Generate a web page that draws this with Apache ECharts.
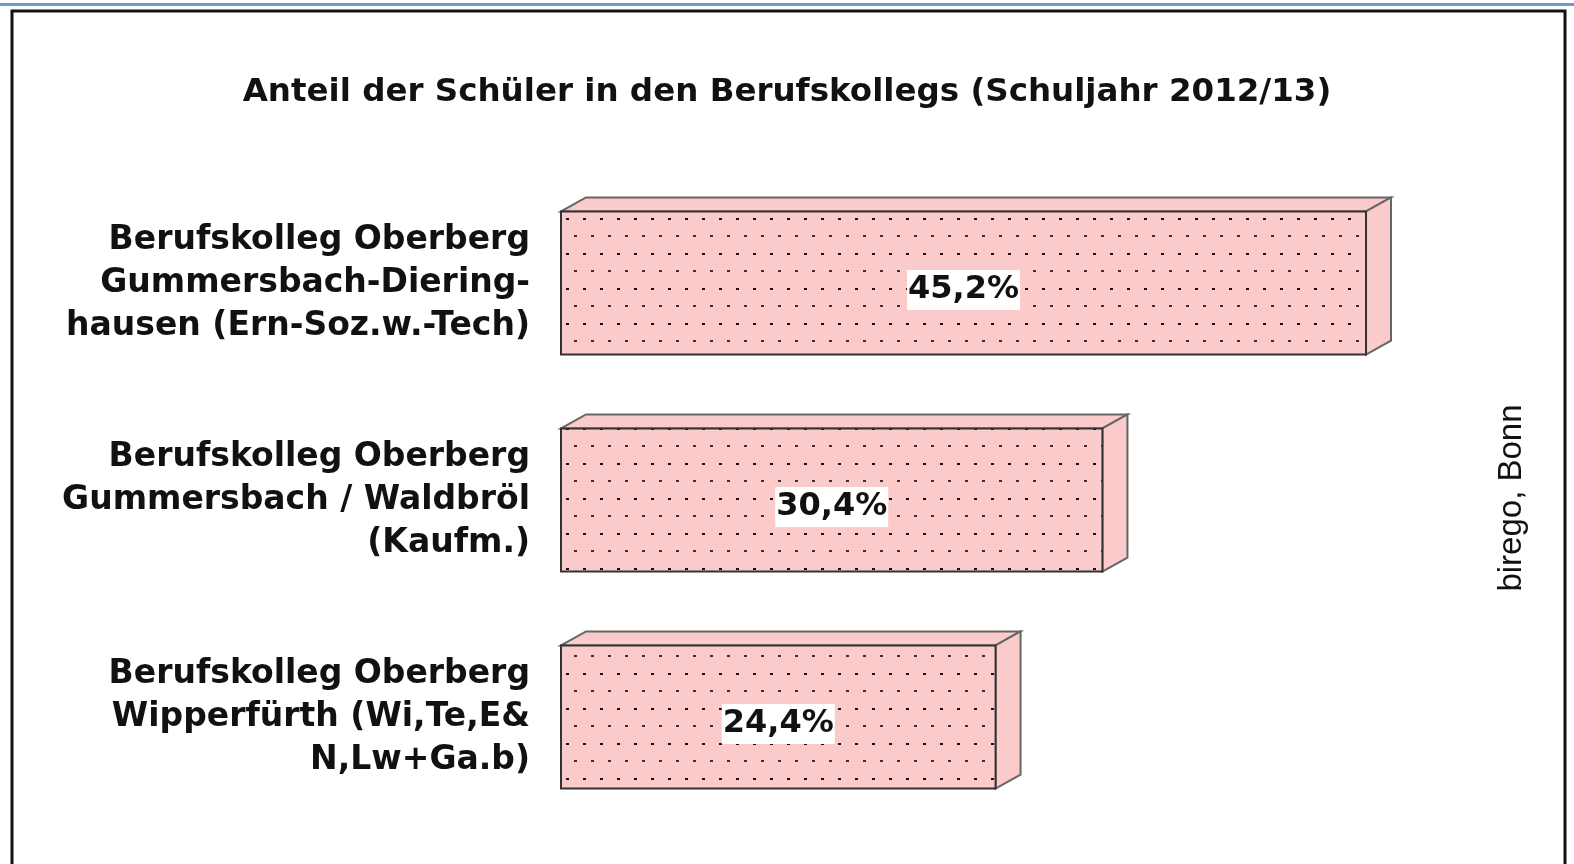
<!DOCTYPE html>
<html>
<head>
<meta charset="utf-8">
<script src="https://cdn.jsdelivr.net/npm/echarts@6/dist/echarts.min.js"></script>
<style>
  html, body { margin: 0; padding: 0; background: #fff; }
  #chart { width: 1574px; height: 864px; }
</style>
</head>
<body>
<div id="chart"></div>
<script>
const categories = [
  'Berufskolleg Oberberg\nGummersbach-Diering-\nhausen (Ern-Soz.w.-Tech)',
  'Berufskolleg Oberberg\nGummersbach / Waldbröl\n(Kaufm.)',
  'Berufskolleg Oberberg\nWipperfürth (Wi,Te,E&\nN,Lw+Ga.b)'
]
const values = [45.2, 30.4, 24.4]
const valueLabels = ['45,2%', '30,4%', '24,4%']

const pink = '#FBCACA'
const depthX = 25, depthY = 14

// dotted fill like the original
const makePattern = () => {
  const c = document.createElement('canvas')
  c.width = 17
  c.height = 35
  const ctx = c.getContext('2d')
  ctx.fillStyle = pink
  ctx.fillRect(0, 0, c.width, c.height)
  ctx.fillStyle = '#111'
  ctx.fillRect(5, 8, 3, 2)
  ctx.fillStyle = '#333'
  ctx.fillRect(13, 25, 3, 2)
  return c
}
const dots = makePattern()

const chart = echarts.init(document.getElementById('chart'))

const renderBar = (params, api) => {
  const idx = api.value(1)
  const p0 = api.coord([0, idx])
  const p1 = api.coord([api.value(0), idx])
  const h = api.size([0, 1])[1] * 0.66
  const x0 = p0[0], x1 = p1[0]
  const top = p0[1] - h / 2, bottom = p0[1] + h / 2
  return {
    type: 'group',
    children: [
      {
        type: 'polygon',
        shape: { points: [[x0, top], [x0 + depthX, top - depthY], [x1 + depthX, top - depthY], [x1, top]] },
        style: { fill: pink, stroke: '#666', lineWidth: 2 }
      },
      {
        type: 'polygon',
        shape: { points: [[x1, top], [x1 + depthX, top - depthY], [x1 + depthX, bottom - depthY], [x1, bottom]] },
        style: { fill: pink, stroke: '#666', lineWidth: 2 }
      },
      {
        type: 'rect',
        shape: { x: x0, y: top, width: x1 - x0, height: h },
        style: { fill: { image: dots, repeat: 'repeat' }, stroke: '#333', lineWidth: 2 }
      },
      {
        type: 'text',
        x: (x0 + x1) / 2,
        y: p0[1] + 7,
        style: {
          text: valueLabels[params.dataIndex],
          font: 'bold 32px "DejaVu Sans", sans-serif',
          fill: '#111',
          align: 'center',
          verticalAlign: 'middle',
          backgroundColor: '#fff',
          padding: [5, 1, 3, 1]
        }
      }
    ]
  }
}

const option = {
  animation: false,
  grid: { left: 561, right: 122.5, top: 174.5, bottom: 38.5 },
  title: {
    text: 'Anteil der Schüler in den Berufskollegs (Schuljahr 2012/13)',
    left: 'center',
    top: 71,
    textStyle: { fontFamily: '"DejaVu Sans", sans-serif', fontSize: 32.5, fontWeight: 'bold', color: '#111' }
  },
  xAxis: {
    type: 'value',
    min: 0,
    max: 50,
    show: false
  },
  yAxis: {
    type: 'category',
    data: categories,
    inverse: true,
    axisLine: { show: false },
    axisTick: { show: false },
    axisLabel: {
      margin: 31,
      align: 'right',
      fontFamily: '"DejaVu Sans", sans-serif',
      fontSize: 33,
      fontWeight: 'bold',
      lineHeight: 43,
      color: '#111'
    }
  },
  series: [
    {
      type: 'custom',
      renderItem: renderBar,
      encode: { x: 0, y: 1 },
      data: values.map((v, i) => [v, i])
    }
  ],
  graphic: [
    { type: 'rect', shape: { x: 0, y: 3, width: 1574, height: 3 }, style: { fill: '#6B9BD2' } },
    { type: 'rect', shape: { x: 12, y: 11, width: 1553, height: 900 }, style: { fill: 'none', stroke: '#111', lineWidth: 3 } },
    {
      type: 'text',
      x: 1512,
      y: 498,
      rotation: Math.PI / 2,
      style: {
        text: 'birego, Bonn',
        font: '33px "Liberation Sans", Arial, sans-serif',
        fill: '#111',
        align: 'center',
        verticalAlign: 'middle'
      }
    }
  ]
}

chart.setOption(option)
</script>
</body>
</html>
